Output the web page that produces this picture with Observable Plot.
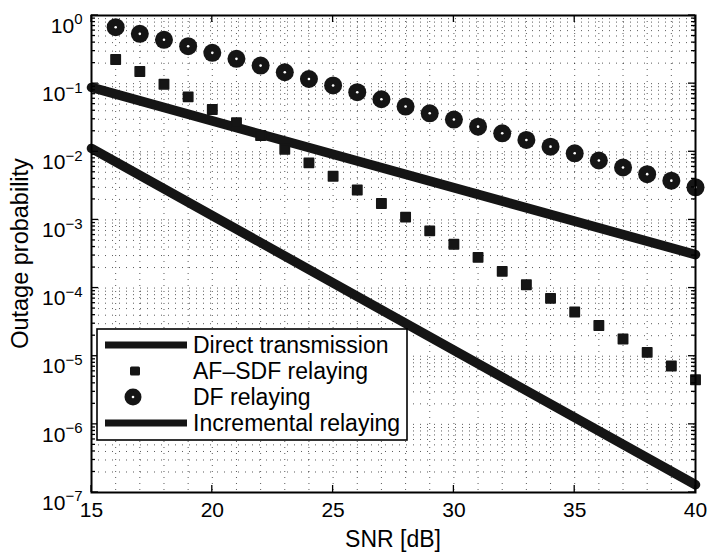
<!DOCTYPE html>
<html><head><meta charset="utf-8">
<script src="https://cdn.jsdelivr.net/npm/d3@7"></script>
<script src="https://cdn.jsdelivr.net/npm/@observablehq/plot@0.6"></script>
<style>body{margin:0;background:#fff} #c{width:707px;height:554px}</style>
</head><body><div id="c"></div>
<script>
// ---- data ----
const snr = [16,17,18,19,20,21,22,23,24,25,26,27,28,29,30,31,32,33,34,35,36,37,38,39,40];
const dfRelaying = [0.673,0.538,0.44,0.354,0.283,0.231,0.184,0.147,0.117,0.094,0.0748,0.059,0.0461,0.0367,0.0297,0.0234,0.0187,0.0149,0.0119,0.0095,0.00745,0.00588,0.0047,0.00377,0.00301];
const afSdfRelaying = [0.226,0.151,0.098,0.064,0.0417,0.0268,0.0173,0.0109,0.00687,0.00437,0.00275,0.00174,0.0011,0.00069,0.00044,2.82e-4,1.76e-4,1.12e-4,7.06e-5,4.45e-5,2.83e-5,1.79e-5,1.14e-5,7.2e-6,4.52e-6];
const lineSnr = [15, 40];
const directTransmission = [0.088, 3.1e-4];
const incrementalRelaying = [0.0112, 1.3e-7];
const xTicks = [15,20,25,30,35,40];
const yTicks = [1e-7,1e-6,1e-5,1e-4,1e-3,1e-2,1e-1,1];
const yExponents = ["\u22127","\u22126","\u22125","\u22124","\u22123","\u22122","\u22121","0"];
const seriesNames = ["Direct transmission","AF\u2013SDF relaying","DF relaying","Incremental relaying"];
const xLabel = "SNR [dB]";
const yLabel = "Outage probability";

// ---- derived tables ----
const gridX = d3.range(15, 41);
const gridY = yTicks.slice(0, -1).flatMap(d => [1,2,3,4,5,6,7,8,9].map(m => m * d)).concat([1]);
const dfData = snr.map((x, i) => ({x, y: dfRelaying[i]}));
const afData = snr.map((x, i) => ({x, y: afSdfRelaying[i]}));
const directData = lineSnr.map((x, i) => ({x, y: directTransmission[i]}));
const incData = lineSnr.map((x, i) => ({x, y: incrementalRelaying[i]}));
const INK = "#151515";
const FONT = "'Liberation Sans', Arial, Helvetica, sans-serif";

const chart = Plot.plot({
  width: 707, height: 554,
  marginLeft: 91, marginRight: 12, marginTop: 15, marginBottom: 62,
  x: {domain: [15, 40]},
  y: {type: "log", domain: [1e-7, 1]},
  style: {fontFamily: FONT, fontSize: "21px", color: "#000", background: "#fff", overflow: "visible"},
  marks: [
    Plot.ruleX(gridX, {stroke: "#000", strokeOpacity: 0.65, strokeWidth: 1, strokeDasharray: "1,5"}),
    Plot.ruleY(gridY, {stroke: "#000", strokeOpacity: 0.65, strokeWidth: 1, strokeDasharray: "1,6"}),
    Plot.line(directData, {x: "x", y: "y", stroke: INK, strokeWidth: 9.5}),
    Plot.line(incData, {x: "x", y: "y", stroke: INK, strokeWidth: 9.5}),
    Plot.dot(afData, {x: "x", y: "y", symbol: "square", r: 5.3, fill: INK, stroke: INK, strokeWidth: 1.5, strokeLinejoin: "round"}),
    Plot.dot(dfData, {x: "x", y: "y", r: 9, fill: INK}),
    Plot.dot(dfData, {x: "x", y: "y", r: 1.3, fill: "#fff"}),
    Plot.frame({stroke: "#000", strokeWidth: 2}),
    Plot.axisX({ticks: xTicks, tickSize: 0, tickPadding: 10, label: null, fontSize: 21}),
    Plot.axisY({ticks: yTicks, tickSize: 0, tickPadding: 9, label: null, fontSize: 21,
      tickFormat: d => yExponents[yTicks.indexOf(d)]})
  ]
});
document.getElementById("c").appendChild(chart);

const sx = chart.scale("x"), sy = chart.scale("y");
const svg = d3.select(chart);

// superscript tick labels 10^k
svg.selectAll('g[aria-label="y-axis tick label"] text').each(function() {
  const t = d3.select(this);
  const exp = t.text();
  t.text("10").attr("dy", "0.5em");
  t.append("tspan").attr("dy", "-0.55em").attr("font-size", 15).text(exp);
});

// inward ticks
const tg = svg.append("g").attr("stroke", "#000").attr("stroke-width", 1.3);
const x0 = sx.apply(15), x1 = sx.apply(40), y0 = sy.apply(1e-7), y1 = sy.apply(1);
xTicks.forEach(v => {
  const px = sx.apply(v);
  tg.append("line").attr("x1", px).attr("x2", px).attr("y1", y0).attr("y2", y0 - 7);
  tg.append("line").attr("x1", px).attr("x2", px).attr("y1", y1).attr("y2", y1 + 7);
});
gridY.forEach(v => {
  const py = sy.apply(v);
  const len = yTicks.includes(v) ? 7 : 4;
  tg.append("line").attr("x1", x0).attr("x2", x0 + len).attr("y1", py).attr("y2", py);
  tg.append("line").attr("x1", x1).attr("x2", x1 - len).attr("y1", py).attr("y2", py);
});

// axis titles
svg.append("text").attr("transform", `translate(20,${(y0 + y1) / 2}) rotate(-90)`)
  .attr("text-anchor", "middle").attr("dominant-baseline", "central")
  .attr("font-family", FONT).attr("font-size", 23.5).attr("fill", "#000").text(yLabel);
svg.append("text").attr("x", (x0 + x1) / 2).attr("y", 539)
  .attr("text-anchor", "middle").attr("dominant-baseline", "central")
  .attr("font-family", FONT).attr("font-size", 23).attr("fill", "#000").text(xLabel);

// legend
const lg = svg.append("g");
lg.append("rect").attr("x", 97).attr("y", 329).attr("width", 310).attr("height", 111)
  .attr("fill", "#fff").attr("stroke", "#000").attr("stroke-width", 1.6);
const rowY = [345, 371, 397, 423];
seriesNames.forEach((name, i) => {
  const yy = rowY[i];
  if (i === 0 || i === 3) {
    lg.append("line").attr("x1", 105).attr("x2", 187).attr("y1", yy).attr("y2", yy)
      .attr("stroke", INK).attr("stroke-width", 7);
  } else if (i === 1) {
    lg.append("rect").attr("x", 130).attr("y", yy - 4.5).attr("width", 10).attr("height", 9)
      .attr("rx", 1.5).attr("fill", INK);
  } else {
    lg.append("circle").attr("cx", 133).attr("cy", yy).attr("r", 8.5).attr("fill", INK);
    lg.append("circle").attr("cx", 133).attr("cy", yy).attr("r", 1.3).attr("fill", "#fff");
  }
  lg.append("text").attr("x", 193).attr("y", yy).attr("text-anchor", "start")
    .attr("dominant-baseline", "central")
    .attr("font-family", FONT).attr("font-size", 23).attr("fill", "#000").text(name);
});
</script>
</body></html>
